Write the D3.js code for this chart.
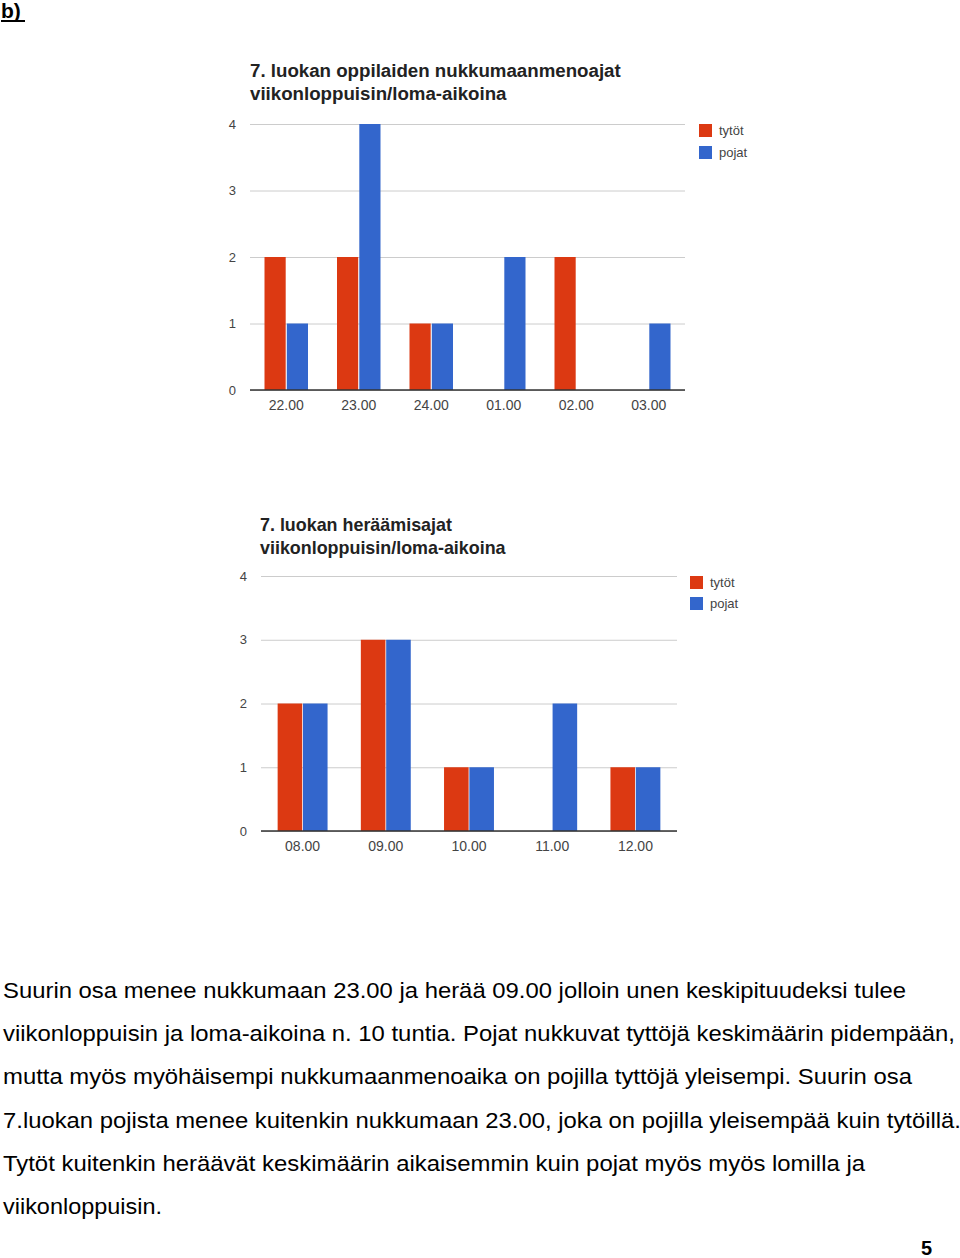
<!DOCTYPE html>
<html>
<head>
<meta charset="utf-8">
<script src="https://cdn.jsdelivr.net/npm/d3@7"></script>
<style>
  html, body { margin: 0; padding: 0; background: #fff; }
  svg { display: block; }
</style>
</head>
<body>
<svg id="page" width="960" height="1258"></svg>
<script>
// ---- Data ----
const seriesNames = ["tytöt", "pojat"];
const seriesColors = ["#dc3912", "#3366cc"];
const yTicks = [0, 1, 2, 3, 4];

const sleepTitle = ["7. luokan oppilaiden nukkumaanmenoajat", "viikonloppuisin/loma-aikoina"];
const sleepCategories = ["22.00", "23.00", "24.00", "01.00", "02.00", "03.00"];
const sleepGirls = [2, 2, 1, 0, 2, 0];
const sleepBoys = [1, 4, 1, 2, 0, 1];

const wakeTitle = ["7. luokan heräämisajat", "viikonloppuisin/loma-aikoina"];
const wakeCategories = ["08.00", "09.00", "10.00", "11.00", "12.00"];
const wakeGirls = [2, 3, 1, 0, 1];
const wakeBoys = [2, 3, 1, 2, 1];

const bodyLines = [
  "Suurin osa menee nukkumaan 23.00 ja herää 09.00 jolloin unen keskipituudeksi tulee",
  "viikonloppuisin ja loma-aikoina n. 10 tuntia. Pojat nukkuvat tyttöjä keskimäärin pidempään,",
  "mutta myös myöhäisempi nukkumaanmenoaika on pojilla tyttöjä yleisempi. Suurin osa",
  "7.luokan pojista menee kuitenkin nukkumaan 23.00, joka on pojilla yleisempää kuin tytöillä.",
  "Tytöt kuitenkin heräävät keskimäärin aikaisemmin kuin pojat myös myös lomilla ja",
  "viikonloppuisin."
];
const bodyWidths = [903, 952, 909, 958, 862, 159];

const svg = d3.select("#page");
const FONT = "Liberation Sans, Arial, sans-serif";

// header "b)"
svg.append("text").attr("x", 1).attr("y", 18)
  .attr("font-family", FONT).attr("font-weight", "bold").attr("font-size", 21)
  .attr("fill", "#000").text("b)");
svg.append("line").attr("x1", 1).attr("x2", 25).attr("y1", 21).attr("y2", 21)
  .attr("stroke", "#000").attr("stroke-width", 2);

function drawChart(cfg) {
  const g = svg.append("g");
  const x0 = d3.scaleBand().domain(cfg.categories).range([cfg.left, cfg.right])
    .paddingInner(0.4).paddingOuter(0.2);
  const x1 = d3.scaleBand().domain(seriesNames).range([0, x0.bandwidth()]).paddingInner(cfg.gap);
  const y = d3.scaleLinear().domain([0, 4]).range([cfg.bottom, cfg.top]);

  // title
  cfg.title.forEach((t, i) => {
    g.append("text").attr("x", cfg.titleX).attr("y", cfg.titleY + i * 23)
      .attr("font-family", FONT).attr("font-weight", "bold").attr("font-size", cfg.titleSize)
      .attr("fill", "#222").text(t);
  });

  // y axis with gridlines
  const yAxis = d3.axisLeft(y).tickValues(yTicks).tickFormat(d3.format("d"))
    .tickSize(-(cfg.right - cfg.left)).tickPadding(14);
  const ya = g.append("g").attr("transform", `translate(${cfg.left},0)`).call(yAxis);
  ya.select(".domain").remove();
  ya.selectAll(".tick line").attr("stroke", "#cccccc").attr("stroke-width", 1);
  ya.selectAll(".tick text").attr("font-family", FONT).attr("font-size", 13).attr("fill", "#444");

  // bars
  const rows = cfg.categories.map((c, i) => ({ c, vals: [cfg.girls[i], cfg.boys[i]] }));
  const grp = g.selectAll(".grp").data(rows).join("g")
    .attr("transform", d => `translate(${x0(d.c)},0)`);
  grp.selectAll("rect").data(d => d.vals.map((v, j) => ({ v, s: seriesNames[j], j })))
    .join("rect")
    .attr("x", d => x1(d.s)).attr("width", x1.bandwidth())
    .attr("y", d => y(d.v)).attr("height", d => y(0) - y(d.v))
    .attr("fill", d => seriesColors[d.j]);

  // baseline
  g.append("line").attr("x1", cfg.left).attr("x2", cfg.right)
    .attr("y1", y(0)).attr("y2", y(0)).attr("stroke", "#333").attr("stroke-width", 1.5);

  // x axis labels
  const xAxis = d3.axisBottom(x0).tickSize(0).tickPadding(10);
  const xa = g.append("g").attr("transform", `translate(0,${cfg.bottom})`).call(xAxis);
  xa.select(".domain").remove();
  xa.selectAll(".tick text").attr("font-family", FONT).attr("font-size", 14).attr("fill", "#444");

  // legend
  seriesNames.forEach((s, i) => {
    g.append("rect").attr("x", cfg.legendX).attr("y", cfg.legendY + i * cfg.legendStep)
      .attr("width", 13).attr("height", 13).attr("fill", seriesColors[i]);
    g.append("text").attr("x", cfg.legendX + 20).attr("y", cfg.legendY + i * cfg.legendStep + 11)
      .attr("font-family", FONT).attr("font-size", 13).attr("fill", "#444").text(s);
  });
}

drawChart({
  title: sleepTitle, titleX: 250, titleY: 77, titleSize: 18.7,
  categories: sleepCategories, girls: sleepGirls, boys: sleepBoys,
  left: 250, right: 685, top: 124, bottom: 390, gap: 0.05,
  legendX: 699, legendY: 124, legendStep: 22
});

drawChart({
  title: wakeTitle, titleX: 260, titleY: 531, titleSize: 17.9,
  categories: wakeCategories, girls: wakeGirls, boys: wakeBoys,
  left: 261, right: 677, top: 576, bottom: 831, gap: 0.03,
  legendX: 690, legendY: 576, legendStep: 21
});

// body text
bodyLines.forEach((t, i) => {
  svg.append("text").attr("x", 3).attr("y", 998 + i * 43.2)
    .attr("font-family", FONT).attr("font-size", 22).attr("fill", "#000")
    .attr("textLength", bodyWidths[i]).attr("lengthAdjust", "spacingAndGlyphs")
    .text(t);
});

// page number
svg.append("text").attr("x", 921).attr("y", 1255)
  .attr("font-family", FONT).attr("font-weight", "bold").attr("font-size", 20)
  .attr("fill", "#000").text("5");
</script>
</body>
</html>
